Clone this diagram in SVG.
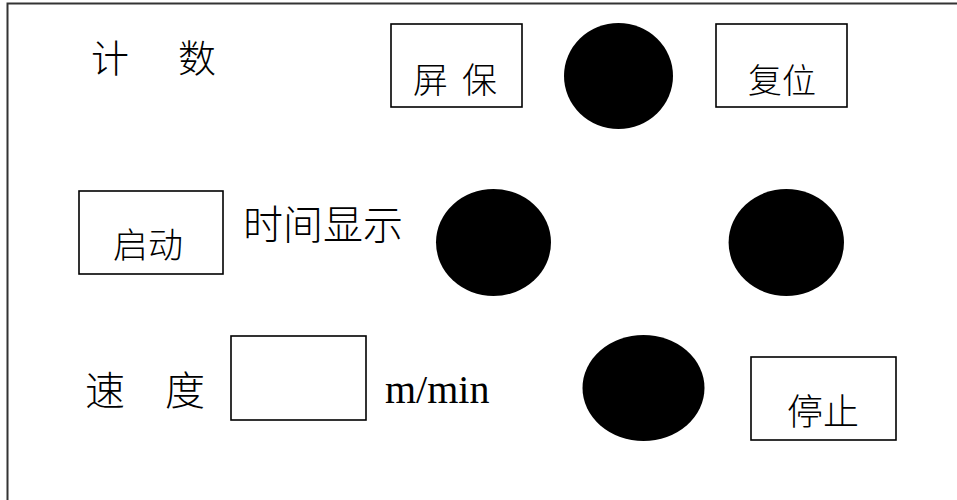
<svg xmlns="http://www.w3.org/2000/svg" width="957" height="500" viewBox="0 0 957 500">
<style>
.box{fill:#fff;stroke:#000;stroke-width:1.6}
.dot{fill:#000}
.cjk{font-family:"Noto Sans CJK SC","Noto Sans",sans-serif;font-weight:300;fill:#000}
.lat{font-family:"Liberation Serif",serif;fill:#000}
</style>
<rect width="957" height="500" fill="#fff"/>
<g id="frame"><path d="M7.5,500 V3.5 H957" fill="none" stroke="#333" stroke-width="2"/></g>
<g id="label-count"><text class="cjk" x="91" y="72" font-size="38">计</text><text class="cjk" x="178" y="72" font-size="38">数</text></g>
<g id="btn-screensaver"><rect class="box" x="391" y="24" width="131" height="83"/><text class="cjk" x="413" y="93" font-size="35">屏</text><text class="cjk" x="462" y="93" font-size="35">保</text></g>
<g id="lamp-1"><ellipse class="dot" cx="618.5" cy="76" rx="54.5" ry="53"/></g>
<g id="btn-reset"><rect class="box" x="716" y="24" width="131" height="83"/><text class="cjk" x="748" y="93" font-size="34">复位</text></g>
<g id="btn-start"><rect class="box" x="79" y="191" width="144" height="83"/><text class="cjk" x="113" y="258" font-size="35">启动</text></g>
<g id="label-time"><text class="cjk" x="243" y="239" font-size="40">时间显示</text></g>
<g id="lamp-2"><ellipse class="dot" cx="493.5" cy="242.5" rx="57.5" ry="53.5"/></g>
<g id="lamp-3"><ellipse class="dot" cx="786.3" cy="242.5" rx="57.7" ry="53.5"/></g>
<g id="label-speed"><text class="cjk" x="85" y="405" font-size="40">速</text><text class="cjk" x="165" y="405" font-size="40">度</text></g>
<g id="speed-field"><rect class="box" x="231" y="336" width="135" height="84"/></g>
<g id="label-unit"><text class="lat" x="385" y="403" font-size="40">m/min</text></g>
<g id="lamp-4"><ellipse class="dot" cx="643.5" cy="388" rx="61" ry="53"/></g>
<g id="btn-stop"><rect class="box" x="751" y="357" width="145" height="83"/><text class="cjk" x="787" y="425" font-size="36">停止</text></g>
<g id="connectors"/>
</svg>
